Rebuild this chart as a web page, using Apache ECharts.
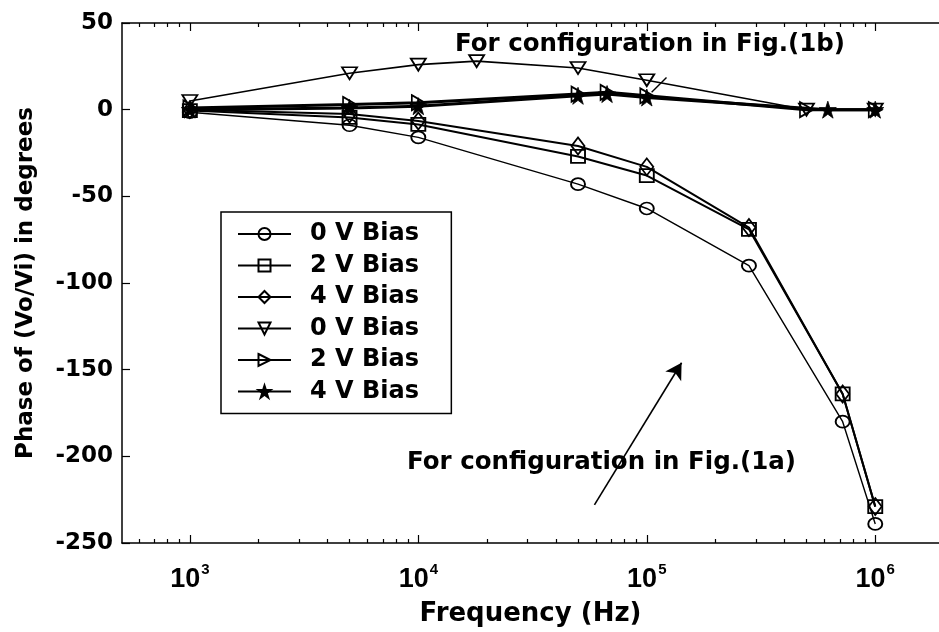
<!DOCTYPE html>
<html>
<head>
<meta charset="utf-8">
<script src="https://cdn.jsdelivr.net/npm/echarts@6/dist/echarts.min.js"></script>
<style>
  html, body { margin: 0; padding: 0; background: #fff; }
  #chart { width: 939px; height: 632px; }
</style>
</head>
<body>
<div id="chart"></div>
<script>
// Fig.(1a) configuration
const freqA = [1e3, 5e3, 1e4, 5e4, 1e5, 2.8e5, 7.2e5, 1e6];
const phaseA0 = [-1.5, -9, -16, -43, -57, -90, -180, -239];
const phaseA2 = [-0.5, -4.5, -8.5, -27, -38, -69, -164, -229];
const phaseA4 = [0, -2.5, -6.5, -21, -33, -68, -164, -229];

// Fig.(1b) configuration
const freqB0 = [1e3, 5e3, 1e4, 1.8e4, 5e4, 1e5, 5e5, 1e6];
const phaseB0 = [5, 21, 26, 28, 24, 17, 0, 0];
const freqB2 = [1e3, 5e3, 1e4, 5e4, 6.7e4, 1e5, 5e5, 1e6];
const phaseB2 = [1, 3, 4, 9, 10, 8, 0, 0];
const freqB4 = [1e3, 5e3, 1e4, 5e4, 6.7e4, 1e5, 6.2e5, 1e6];
const phaseB4 = [0, 1, 2, 8, 9, 7, 0, 0];

const legendNames = ['0 V Bias', '2 V Bias', '4 V Bias', '0 V Bias ', '2 V Bias ', '4 V Bias '];
const decades = [3, 4, 5, 6];

// annotation arrow / pointer (frequency, phase)
const arrowFrom = [5.9e4, -228];
const arrowTo = [1.42e5, -146];
const pointerFrom = [1.05e5, 10];
const pointerTo = [1.22e5, 18.5];

const X_MIN = 2.703;
const X_MAX = 6.279;
const FONT = '"DejaVu Sans"';
const FONT_NUM = '"Liberation Sans"';

const minorTicks = [];
for (let n = 2; n <= 6; n++) {
  for (let k = 2; k <= 9; k++) {
    const v = Math.log10(k * Math.pow(10, n));
    if (v > X_MIN && v < X_MAX) minorTicks.push(v);
  }
}

const toXY = (f, p) => f.map((x, i) => [Math.log10(x), p[i]]);

const starPath = 'path://M5,0 L6.2,3.6 L10,3.6 L6.9,5.9 L8.1,9.5 L5,7.3 L1.9,9.5 L3.1,5.9 L0,3.6 L3.8,3.6 Z';
const triDown = 'path://M0,0 L10,0 L5,9 Z';
const triRight = 'path://M0,0 L9,5 L0,10 Z';

const hollow = { color: 'rgba(0,0,0,0)', borderColor: '#000', borderWidth: 1.8 };

function mkSeries(name, data, symbol, size, width, extra) {
  return Object.assign({
    name: name,
    type: 'line',
    data: data,
    symbol: symbol,
    symbolSize: size,
    showAllSymbol: true,
    lineStyle: { color: '#000', width: width },
    itemStyle: hollow,
    emphasis: { disabled: true },
    z: 3
  }, extra || {});
}

function xAxisBase(pos, len, ticks, showLine) {
  return {
    type: 'value', position: pos, min: X_MIN, max: X_MAX,
    splitLine: { show: false },
    axisLine: { show: showLine, onZero: false, lineStyle: { color: '#000', width: 1.5 } },
    axisTick: { inside: true, length: len, customValues: ticks, lineStyle: { color: '#000', width: 1.2 } },
    axisLabel: { show: false }
  };
}

const chart = echarts.init(document.getElementById('chart'));

const xBottom = xAxisBase('bottom', 8, decades, true);
xBottom.axisLabel = {
  show: true,
  customValues: decades,
  margin: 19,
  formatter: v => '{b|10}{s|' + Math.round(v) + '}',
  rich: {
    b: { fontSize: 27, fontWeight: 'bold', fontFamily: FONT_NUM, color: '#000' },
    s: { fontSize: 15, fontWeight: 'bold', fontFamily: FONT_NUM, color: '#000', padding: [0, 0, 20, 1] }
  }
};
xBottom.name = 'Frequency (Hz)';
xBottom.nameLocation = 'middle';
xBottom.nameGap = 58;
xBottom.nameTextStyle = { fontSize: 26, fontWeight: 'bold', fontFamily: FONT, color: '#000' };

const option = {
  animation: false,
  backgroundColor: '#fff',
  grid: { left: 122, top: 23, right: -2, bottom: 85 },
  xAxis: [
    xBottom,
    xAxisBase('bottom', 4, minorTicks, false),
    xAxisBase('top', 8, decades, true),
    xAxisBase('top', 4, minorTicks, false)
  ],
  yAxis: [
    {
      type: 'value', position: 'left', min: -250, max: 50, interval: 50,
      splitLine: { show: false },
      axisLine: { show: true, onZero: false, lineStyle: { color: '#000', width: 1.5 } },
      axisTick: { inside: true, length: 8, lineStyle: { color: '#000', width: 1.2 } },
      axisLabel: { margin: 9, fontSize: 23, fontWeight: 'bold', fontFamily: FONT, color: '#000' },
      name: 'Phase of (Vo/Vi) in degrees',
      nameLocation: 'middle',
      nameGap: 84,
      nameTextStyle: { fontSize: 23, fontWeight: 'bold', fontFamily: FONT, color: '#000' }
    }
  ],
  legend: {
    orient: 'vertical',
    left: 221, top: 212,
    data: legendNames,
    itemWidth: 53, itemHeight: 15, itemGap: 7.5,
    padding: [10, 24, 10, 16],
    borderColor: '#000', borderWidth: 1.5,
    backgroundColor: '#fff',
    textStyle: { fontSize: 24, lineHeight: 24, fontWeight: 'bold', fontFamily: FONT, color: '#000', padding: [0, 0, 0, 14] }
  },
  graphic: [
    { type: 'text', left: 455, top: 32, style: { text: 'For configuration in Fig.(1b)', font: 'bold 24.5px ' + FONT, fill: '#000' } },
    { type: 'text', left: 407, top: 450, style: { text: 'For configuration in Fig.(1a)', font: 'bold 24.5px ' + FONT, fill: '#000' } }
  ],
  series: [
    mkSeries(legendNames[0], toXY(freqA, phaseA0), 'circle', [14, 12], 1.4, {
      markLine: {
        silent: true, animation: false,
        symbol: ['none', 'arrow'], symbolSize: [14, 16],
        label: { show: false },
        lineStyle: { color: '#000', width: 1.6, type: 'solid' },
        data: [[{ coord: [Math.log10(arrowFrom[0]), arrowFrom[1]] }, { coord: [Math.log10(arrowTo[0]), arrowTo[1]] }]]
      }
    }),
    mkSeries(legendNames[1], toXY(freqA, phaseA2), 'rect', [14, 13], 2),
    mkSeries(legendNames[2], toXY(freqA, phaseA4), 'diamond', [13, 17], 2),
    mkSeries(legendNames[3], toXY(freqB0, phaseB0), triDown, [15, 12], 1.6, {
      markLine: {
        silent: true, animation: false,
        symbol: ['none', 'none'],
        label: { show: false },
        lineStyle: { color: '#000', width: 1.4, type: 'solid' },
        data: [[{ coord: [Math.log10(pointerFrom[0]), pointerFrom[1]] }, { coord: [Math.log10(pointerTo[0]), pointerTo[1]] }]]
      }
    }),
    mkSeries(legendNames[4], toXY(freqB2, phaseB2), triRight, [13, 15], 3),
    mkSeries(legendNames[5], toXY(freqB4, phaseB4), starPath, 17, 3, {
      itemStyle: { color: '#000', borderColor: '#000', borderWidth: 0.8 }
    })
  ]
};

chart.setOption(option);
</script>
</body>
</html>
